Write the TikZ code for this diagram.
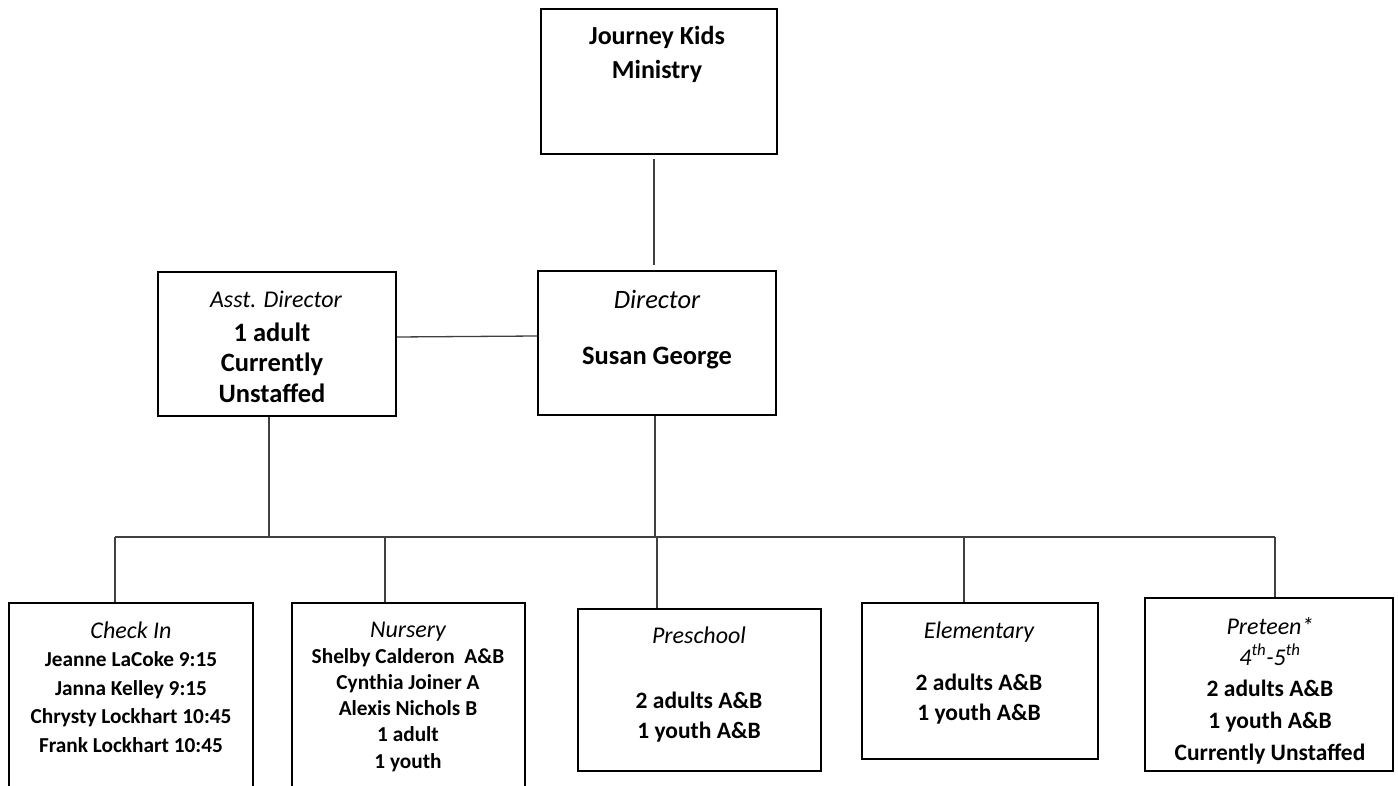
\documentclass[tikz,border=0pt]{standalone}
\usepackage{fontspec}
\setmainfont{Carlito}

\tikzset{
  orgbox/.style={draw, line width=2pt, inner sep=0pt},
  wire/.style={draw=black!75, line width=1.3pt},
  txt/.style={align=center, inner sep=0pt, anchor=base, font=\fontsize{24}{30}\selectfont\itshape},
  bodytxt/.style={txt, font=\fontsize{23.5}{30}\selectfont\bfseries},
}

\begin{document}
\begin{tikzpicture}[x=1pt,y=-1pt]
\path[use as bounding box, clip] (0,0) rectangle (1398,786);

% top row
\node[orgbox, minimum width=236, minimum height=145] (ministry) at (659,81.5) {};
\node[txt, font=\bfseries\fontsize{26}{34}\selectfont] (ministryT) at (657,79) {Journey Kids\\Ministry};

% second row
\node[orgbox, minimum width=238, minimum height=144] (asst) at (277,344) {};
\node[txt] (asstHead) at (276,308) {Asst. Director};
\node[bodytxt, font=\fontsize{26.5}{30.5}\selectfont\bfseries] (asstBody) at (272,402) {1 adult\\Currently\\Unstaffed};
\node[orgbox, minimum width=238, minimum height=144] (director) at (657,343) {};
\node[txt, font=\fontsize{26.5}{30}\selectfont\itshape] (directorHead) at (657,309) {Director};
\node[bodytxt, font=\bfseries\fontsize{26.5}{30}\selectfont] (directorName) at (657,365) {Susan George};

% bottom row
\node[orgbox, minimum width=244, minimum height=197] (checkin) at (131,701.5) {};
\node[txt] (checkinHead) at (131,638) {Check In};
\node[bodytxt, font=\fontsize{21.3}{28.5}\selectfont\bfseries] (checkinBody) at (131,752) {Jeanne LaCoke 9:15\\Janna Kelley 9:15\\Chrysty Lockhart 10:45\\Frank Lockhart 10:45};
\node[orgbox, minimum width=233, minimum height=197] (nursery) at (408.5,701.5) {};
\node[txt] (nurseryHead) at (408,637) {Nursery};
\node[bodytxt, font=\fontsize{21.3}{26.2}\selectfont\bfseries] (nurseryBody) at (408,768) {Shelby Calderon~ A\&B\\Cynthia Joiner A\\Alexis Nichols B\\1 adult\\1 youth};
\node[orgbox, minimum width=243, minimum height=162] (preschool) at (699.5,690) {};
\node[txt] (preschoolHead) at (699,643) {Preschool};
\node[bodytxt] (preschoolBody) at (699,738) {2 adults A\&B\\1 youth A\&B};
\node[orgbox, minimum width=236, minimum height=156] (elementary) at (980,681) {};
\node[txt] (elementaryHead) at (979,638) {Elementary};
\node[bodytxt] (elementaryBody) at (979,720) {2 adults A\&B\\1 youth A\&B};
\node[orgbox, minimum width=248, minimum height=173] (preteen) at (1269,684.5) {};
\node[txt, font=\fontsize{24}{30.5}\selectfont\itshape] (preteenHead) at (1270,665) {Preteen*\\4\textsuperscript{th}-5\textsuperscript{th}};
\node[bodytxt, font=\fontsize{23.5}{32}\selectfont\bfseries] (preteenBody) at (1270,760) {2 adults A\&B\\1 youth A\&B\\Currently Unstaffed};

% connectors
\coordinate (busL) at (115,537);
\coordinate (busR) at (1275,537);
\coordinate (dropNursery) at (385,537);
\coordinate (dropPreschool) at (657,537);
\coordinate (dropElementary) at (964,537);
\draw[wire, shorten <=4pt, shorten >=5pt] ([xshift=-5pt]ministry.south) -- ([xshift=-3pt]director.north);
\draw[wire] ([yshift=7pt]asst.east) -- ([yshift=7pt]director.west);
\draw[wire] ([xshift=-8pt]asst.south) -- ([xshift=-8pt]asst.south |- busL);
\draw[wire] ([xshift=-2pt]director.south) -- ([xshift=-2pt]director.south |- busL);
\draw[wire] (busL) -- (busR);
\foreach \d/\b in {busL/checkin,dropNursery/nursery,dropPreschool/preschool,dropElementary/elementary,busR/preteen}
  \draw[wire] (\d) -- (\d |- \b.north);
\end{tikzpicture}
\end{document}
